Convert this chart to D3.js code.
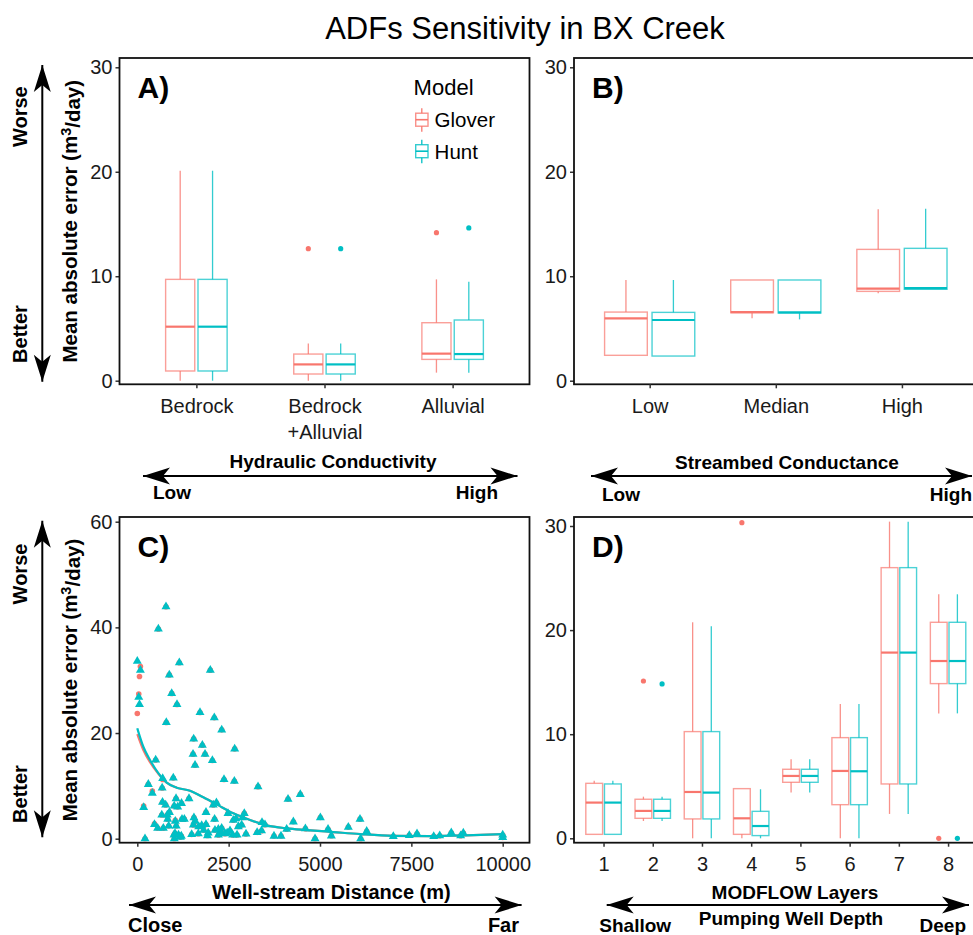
<!DOCTYPE html>
<html>
<head>
<meta charset="utf-8">
<script src="https://cdn.jsdelivr.net/npm/d3@7"></script>
<style>
  body { margin: 0; background: #fff; }
  svg { display: block; font-family: "Liberation Sans", Arial, sans-serif; }
  .tick text { font-size: 20px; fill: #1a1a1a; }
  .tick line { stroke: #333; stroke-width: 1.5; }
  .bold { font-weight: bold; }
</style>
</head>
<body>
<svg id="chart" width="973" height="935"></svg>
<script>
// Models and colours
var models = ["Glover", "Hunt"];
var modelColors = ["#F8766D", "#00BFC4"];

// Panel A: hydraulic conductivity, stats = [lower whisker, Q1, median, Q3, upper whisker]
var hkCategories = ["Bedrock", "Bedrock\n+Alluvial", "Alluvial"];
var hkGlover = [[0, 0.93, 5.17, 9.7, 20.1], [0, 0.64, 1.56, 2.55, 3.57], [0.77, 2.04, 2.59, 5.55, 9.7]];
var hkHunt = [[0, 0.93, 5.17, 9.7, 20.1], [0, 0.64, 1.56, 2.55, 3.57], [0.77, 2.04, 2.55, 5.81, 9.48]];
var hkGloverOut = [[], [12.64], [14.17]];
var hkHuntOut = [[], [12.64], [14.62]];

// Panel B: streambed conductance
var sbCategories = ["Low", "Median", "High"];
var sbGlover = [[2.43, 2.43, 5.97, 6.57, 9.64], [5.97, 6.51, 6.57, 9.64, 9.64], [8.36, 8.55, 8.81, 12.57, 16.4]];
var sbHunt = [[2.36, 2.36, 5.81, 6.54, 9.64], [5.87, 6.48, 6.54, 9.64, 9.64], [8.75, 8.75, 8.87, 12.67, 16.47]];
var sbGloverOut = [[], [], []];
var sbHuntOut = [[], [], []];

// Panel C: well-stream distance (m) vs MAE
var distance = [0, 40, 60, 85, 174, 211, 301, 411, 470, 503,
  557, 576, 670, 680, 690, 694, 712, 776, 785, 794,
  820, 831, 860, 876, 880, 941, 985, 1004, 1010, 1013,
  1032, 1040, 1060, 1065, 1086, 1105, 1128, 1150, 1180, 1205,
  1210, 1223, 1287, 1415, 1488, 1525, 1535, 1543, 1550, 1580,
  1580, 1670, 1680, 1716, 1762, 1780, 1817, 1854, 1880, 1880,
  1920, 1940, 1998, 2055, 2080, 2107, 2115, 2126, 2165, 2218,
  2220, 2263, 2290, 2309, 2310, 2373, 2400, 2460, 2482, 2537,
  2610, 2627, 2656, 2665, 2700, 2729, 2765, 2856, 2880, 2928,
  2975, 3280, 3304, 3400, 3413, 3495, 3741, 3933, 4088, 4125,
  4271, 4461, 4600, 4864, 5010, 5220, 5311, 5775, 6095, 6113,
  6278, 7006, 7444, 7655, 8112, 8276, 8593, 8849, 8922, 10000, 10000];
var huntMAE = [33.6, 26.8, 25.4, 31.9, 5.9, 0.0, 10.3, 8.6, 2.7, 14.9,
  2.0, 39.7, 4.5, 9.6, 6.9, 11.4, 2.0, 6.4, 43.9, 22.0,
  4.5, 3.7, 2.4, 31.0, 5.0, 27.5, 11.5, 0.7, 6.2, 0.0,
  1.0, 3.3, 7.6, 2.4, 25.4, 6.0, 0.7, 33.3, 0.3, 0.5,
  6.7, 3.7, 3.7, 7.6, 0.8, 16.0, 2.6, 18.9, 4.0, 3.3,
  13.9, 0.95, 2.3, 23.9, 2.5, 17.7, 1.6, 16.0, 5.0, 2.7,
  0.6, 1.1, 31.9, 14.8, 6.4, 22.9, 3.7, 1.6, 6.8, 1.8,
  0.7, 1.0, 1.3, 2.0, 20.6, 11.2, 0.95, 1.1, 4.8, 1.5,
  0.7, 3.5, 10.9, 17.0, 3.8, 0.7, 2.3, 2.6, 4.0, 4.8,
  0.9, 1.2, 9.85, 1.5, 3.1, 2.65, 0.5, 0.5, 1.8, 7.5,
  3.2, 8.4, 1.9, 0.0, 4.0, 1.8, 0.55, 2.2, 3.7, 0.0,
  1.4, 0.45, 0.64, 0.95, 0.45, 0.57, 1.14, 0.57, 1.07, 0.7, 0.25];
var gloverMAE = [23.7, 27.4, 30.7, 32.6, 6.2, 0.0, 10.3, 9.0, 2.8, 14.9,
  2.0, 39.7, 4.5, 9.6, 6.9, 11.2, 2.0, 6.4, 43.9, 22.0,
  4.5, 3.7, 2.4, 31.0, 5.0, 27.5, 11.5, 0.7, 6.2, 0.0,
  1.0, 3.5, 7.6, 2.4, 25.4, 6.0, 0.7, 33.3, 0.3, 0.5,
  6.7, 3.7, 3.7, 7.6, 0.8, 16.0, 2.6, 18.9, 4.0, 3.3,
  13.9, 0.95, 2.3, 23.9, 2.5, 17.7, 1.6, 16.0, 5.0, 2.7,
  0.6, 1.1, 31.9, 14.8, 6.4, 22.9, 3.7, 1.6, 6.8, 1.8,
  0.7, 1.0, 1.3, 2.0, 20.6, 11.2, 0.95, 1.1, 4.8, 1.5,
  0.7, 3.5, 10.9, 17.0, 3.8, 0.7, 2.3, 2.6, 4.0, 4.8,
  0.9, 1.2, 9.85, 1.5, 3.1, 2.65, 0.5, 0.5, 1.8, 7.5,
  3.2, 8.4, 1.9, 0.0, 4.0, 1.8, 0.55, 2.2, 3.7, 0.0,
  1.4, 0.45, 0.64, 0.95, 0.45, 0.57, 1.14, 0.57, 1.07, 0.7, 0.25];
// smoothed trend lines
var smoothDist = [0, 165, 348, 576, 804, 1078, 1442, 1807, 2172, 2628, 3085, 3541, 4088, 4636, 5365, 6095, 7000, 8000, 9000, 10000];
var huntSmooth = [20.9, 17.4, 14.9, 12.4, 10.6, 9.66, 9.09, 7.83, 6.5, 4.8, 3.54, 2.53, 1.96, 1.64, 1.26, 0.88, 0.55, 0.5, 0.62, 0.85];
var gloverSmooth = [19.8, 16.8, 14.5, 12.3, 10.6, 9.66, 9.09, 7.83, 6.5, 4.8, 3.54, 2.53, 1.96, 1.64, 1.26, 0.88, 0.55, 0.5, 0.62, 0.85];
var distTicks = [0, 2500, 5000, 7500, 10000];

// Panel D: MODFLOW layers
var layerCategories = ["1", "2", "3", "4", "5", "6", "7", "8"];
var layerGlover = [[0.38, 0.38, 3.43, 5.28, 5.54], [1.66, 1.92, 2.63, 3.75, 4.0], [0, 1.86, 4.45, 10.25, 20.75], [0, 0.38, 1.92, 4.77, 4.77],
  [4.39, 5.38, 5.99, 6.63, 7.59], [0, 3.23, 6.47, 9.67, 12.9], [2.34, 5.22, 17.84, 26.0, 30.42], [12.0, 14.86, 17.03, 20.75, 23.44]];
var layerHunt = [[0.38, 0.38, 3.43, 5.22, 5.54], [1.66, 1.92, 2.63, 3.75, 4.0], [0, 1.86, 4.39, 10.25, 20.36], [0, 0.26, 1.18, 2.59, 4.71],
  [4.39, 5.38, 5.99, 6.63, 7.59], [0, 3.23, 6.44, 9.67, 12.9], [2.34, 5.22, 17.84, 26.0, 30.42], [12.0, 14.86, 17.03, 20.75, 23.44]];
var layerGloverOut = [[], [15.11], [], [30.32], [], [], [], [0]];
var layerHuntOut = [[], [14.83], [], [], [], [], [], [0]];

var svg = d3.select("#chart");

// Title
svg.append("text")
  .attr("x", 525).attr("y", 39)
  .attr("text-anchor", "middle")
  .style("font-size", "31px")
  .text("ADFs Sensitivity in BX Creek");

// draws the panel frame, y axis and panel tag
function framePanel(left, right, top, bottom, y, yTicks, tag) {
  var g = svg.append("g");
  g.append("g")
    .attr("transform", "translate(" + left + ",0)")
    .call(d3.axisLeft(y).tickValues(yTicks).tickSize(4).tickPadding(3))
    .call(function (a) { a.select(".domain").remove(); });
  g.append("rect")
    .attr("x", left).attr("y", top)
    .attr("width", right - left).attr("height", bottom - top)
    .attr("fill", "none").attr("stroke", "#111").attr("stroke-width", 1.8);
  g.append("text")
    .attr("class", "bold")
    .attr("x", left + 18).attr("y", top + 40)
    .style("font-size", "30px")
    .text(tag);
  return g;
}

// box plot panel
function boxPanel(cats, gStats, hStats, gOut, hOut, left, right, top, bottom, y, yTicks, groupFrac, labelPad, tag) {
  var g = framePanel(left, right, top, bottom, y, yTicks, tag);
  var x = d3.scalePoint().domain(cats).range([left, right]).padding(0.6);
  var gw = groupFrac * x.step();
  var dodge = d3.scaleBand().domain(models).range([-gw / 2, gw / 2]).paddingInner(0.1);

  var xAxis = g.append("g")
    .attr("transform", "translate(0," + bottom + ")")
    .call(d3.axisBottom(x).tickSize(4).tickPadding(labelPad));
  xAxis.select(".domain").remove();
  xAxis.selectAll(".tick text").each(function (d) {
    var parts = d.split("\n");
    var t = d3.select(this).text(null);
    parts.forEach(function (p, i) {
      t.append("tspan").attr("x", 0).attr("dy", i === 0 ? "0.71em" : "1.3em").text(p);
    });
  }).attr("dy", null);

  var statSets = [gStats, hStats];
  var outSets = [gOut, hOut];
  models.forEach(function (m, mi) {
    var col = modelColors[mi];
    var w = dodge.bandwidth();
    cats.forEach(function (c, ci) {
      var s = statSets[mi][ci];
      var cx = x(c) + dodge(m) + w / 2;
      var bg = g.append("g");
      bg.append("line").attr("x1", cx).attr("x2", cx).attr("y1", y(s[0])).attr("y2", y(s[1]))
        .attr("stroke", col).attr("stroke-width", 1.3).attr("stroke-opacity", 0.8);
      bg.append("line").attr("x1", cx).attr("x2", cx).attr("y1", y(s[3])).attr("y2", y(s[4]))
        .attr("stroke", col).attr("stroke-width", 1.3).attr("stroke-opacity", 0.8);
      bg.append("rect").attr("x", cx - w / 2).attr("y", y(s[3]))
        .attr("width", w).attr("height", y(s[1]) - y(s[3]))
        .attr("fill", "none").attr("stroke", col).attr("stroke-width", 1.4).attr("stroke-opacity", 0.7);
      bg.append("line").attr("x1", cx - w / 2).attr("x2", cx + w / 2).attr("y1", y(s[2])).attr("y2", y(s[2]))
        .attr("stroke", col).attr("stroke-width", 2.2);
      bg.selectAll("circle").data(outSets[mi][ci]).join("circle")
        .attr("cx", cx).attr("cy", function (d) { return y(d); })
        .attr("r", 2.6).attr("fill", col);
    });
  });
  return g;
}

// big double-headed arrow
function arrow(x1, y1, x2, y2) {
  var ang = Math.atan2(y2 - y1, x2 - x1) * 180 / Math.PI;
  var head = "M0,0 L-27,-8.5 L-20,0 L-27,8.5 Z";
  svg.append("line").attr("x1", x1).attr("y1", y1).attr("x2", x2).attr("y2", y2)
    .attr("stroke", "#000").attr("stroke-width", 2);
  svg.append("path").attr("d", head).attr("fill", "#000")
    .attr("transform", "translate(" + x2 + "," + y2 + ") rotate(" + ang + ")");
  svg.append("path").attr("d", head).attr("fill", "#000")
    .attr("transform", "translate(" + x1 + "," + y1 + ") rotate(" + (ang + 180) + ")");
}

function boldText(x, y, txt, anchor, size, rot) {
  var t = svg.append("text").attr("class", "bold")
    .attr("text-anchor", anchor).style("font-size", size + "px");
  if (rot) {
    t.attr("transform", "translate(" + x + "," + y + ") rotate(-90)").attr("dy", "0.35em");
  } else {
    t.attr("x", x).attr("y", y);
  }
  t.text(txt);
  return t;
}

function yTitle(x, y) {
  var t = svg.append("text").attr("class", "bold")
    .attr("text-anchor", "middle").style("font-size", "20.5px")
    .attr("transform", "translate(" + x + "," + y + ") rotate(-90)");
  t.append("tspan").attr("dy", "0.35em").text("Mean absolute error (m");
  t.append("tspan").attr("dy", "-0.45em").style("font-size", "14.5px").text("3");
  t.append("tspan").attr("dy", "0.45em").text("/day)");
}

// ---- Panel A ----
var yTop = d3.scaleLinear().domain([0, 30]).range([380.7, 67.3]);
var gA = boxPanel(hkCategories, hkGlover, hkHunt, hkGloverOut, hkHuntOut,
  119.5, 529.5, 58, 384.3, yTop, [0, 10, 20, 30], 0.48, 11, "A)");

// legend
var legend = gA.append("g");
legend.append("text").attr("x", 413.6).attr("y", 95).style("font-size", "22px").text("Model");
models.forEach(function (m, i) {
  var ky = 119.7 + i * 31.5;
  var col = modelColors[i];
  legend.append("line").attr("x1", 421.8).attr("x2", 421.8).attr("y1", ky - 11.5).attr("y2", ky + 12)
    .attr("stroke", col).attr("stroke-width", 1.3);
  legend.append("rect").attr("x", 415.7).attr("y", ky - 6.5).attr("width", 12.3).attr("height", 13)
    .attr("fill", "#fff").attr("stroke", col).attr("stroke-width", 1.4).attr("stroke-opacity", 0.8);
  legend.append("line").attr("x1", 415.7).attr("x2", 428).attr("y1", ky).attr("y2", ky)
    .attr("stroke", col).attr("stroke-width", 1.6);
  legend.append("text").attr("x", 434.6).attr("y", ky + 7.5).style("font-size", "20.5px").text(m);
});

// ---- Panel B ----
boxPanel(sbCategories, sbGlover, sbHunt, sbGloverOut, sbHuntOut,
  574, 977.6, 58, 384.3, yTop, [0, 10, 20, 30], 0.715, 11, "B)");

// ---- Panel C ----
var xC = d3.scaleLinear().domain([0, 10000]).range([137.3, 502.7]);
var yC = d3.scaleLinear().domain([0, 60]).range([838.7, 521.7]);
var gC = framePanel(119.5, 529.5, 517, 842.7, yC, [0, 20, 40, 60], "C)");
var xAxisC = gC.append("g")
  .attr("transform", "translate(0,842.7)")
  .call(d3.axisBottom(xC).tickValues(distTicks).tickFormat(d3.format("d")).tickSize(4).tickPadding(10));
xAxisC.select(".domain").remove();

var pts = distance.map(function (d, i) { return { d: d, g: gloverMAE[i], h: huntMAE[i] }; });
gC.append("g").selectAll("circle").data(pts).join("circle")
  .attr("cx", function (p) { return xC(p.d); })
  .attr("cy", function (p) { return yC(p.g); })
  .attr("r", 2.8).attr("fill", modelColors[0]);

var smoothLine = function (vals) {
  return d3.line()
    .x(function (d, i) { return xC(smoothDist[i]); })
    .y(function (d) { return yC(d); })
    .curve(d3.curveMonotoneX)(vals);
};
gC.append("path").attr("d", smoothLine(gloverSmooth))
  .attr("fill", "none").attr("stroke", modelColors[0]).attr("stroke-width", 2.2);

gC.append("g").selectAll("path").data(pts).join("path")
  .attr("d", d3.symbol(d3.symbolTriangle, 35))
  .attr("transform", function (p) { return "translate(" + xC(p.d) + "," + yC(p.h) + ")"; })
  .attr("fill", modelColors[1]);

gC.append("path").attr("d", smoothLine(huntSmooth))
  .attr("fill", "none").attr("stroke", modelColors[1]).attr("stroke-width", 2.2);

// ---- Panel D ----
var yD = d3.scaleLinear().domain([0, 30]).range([838.3, 526]);
boxPanel(layerCategories, layerGlover, layerHunt, layerGloverOut, layerHuntOut,
  574, 977.6, 517, 842.7, yD, [0, 10, 20, 30], 0.72, 10, "D)");

// ---- Side annotations ----
yTitle(70, 221.2);
yTitle(70, 680);
boldText(20, 116.7, "Worse", "middle", 20, true);
boldText(20, 334, "Better", "middle", 20, true);
boldText(20, 574, "Worse", "middle", 20, true);
boldText(20, 794, "Better", "middle", 20, true);
arrow(42.3, 65, 42.3, 381.7);
arrow(42.3, 520.7, 42.3, 837.3);

// ---- Bottom annotations ----
boldText(333, 468, "Hydraulic Conductivity", "middle", 19);
arrow(143, 476, 517.5, 476);
boldText(153, 499, "Low", "start", 19);
boldText(498, 499, "High", "end", 19);

boldText(787, 469, "Streambed Conductance", "middle", 19);
arrow(591, 476, 972, 476);
boldText(602, 501, "Low", "start", 19);
boldText(972, 501, "High", "end", 19);

boldText(331.4, 899, "Well-stream Distance (m)", "middle", 20);
arrow(129, 905, 521.6, 905);
boldText(128, 932, "Close", "start", 20);
boldText(519, 932, "Far", "end", 20);

boldText(795, 899, "MODFLOW Layers", "middle", 19);
arrow(606.7, 905, 969, 905);
boldText(791, 925, "Pumping Well Depth", "middle", 19);
boldText(599.3, 932, "Shallow", "start", 19);
boldText(966, 932, "Deep", "end", 19);
</script>
</body>
</html>
